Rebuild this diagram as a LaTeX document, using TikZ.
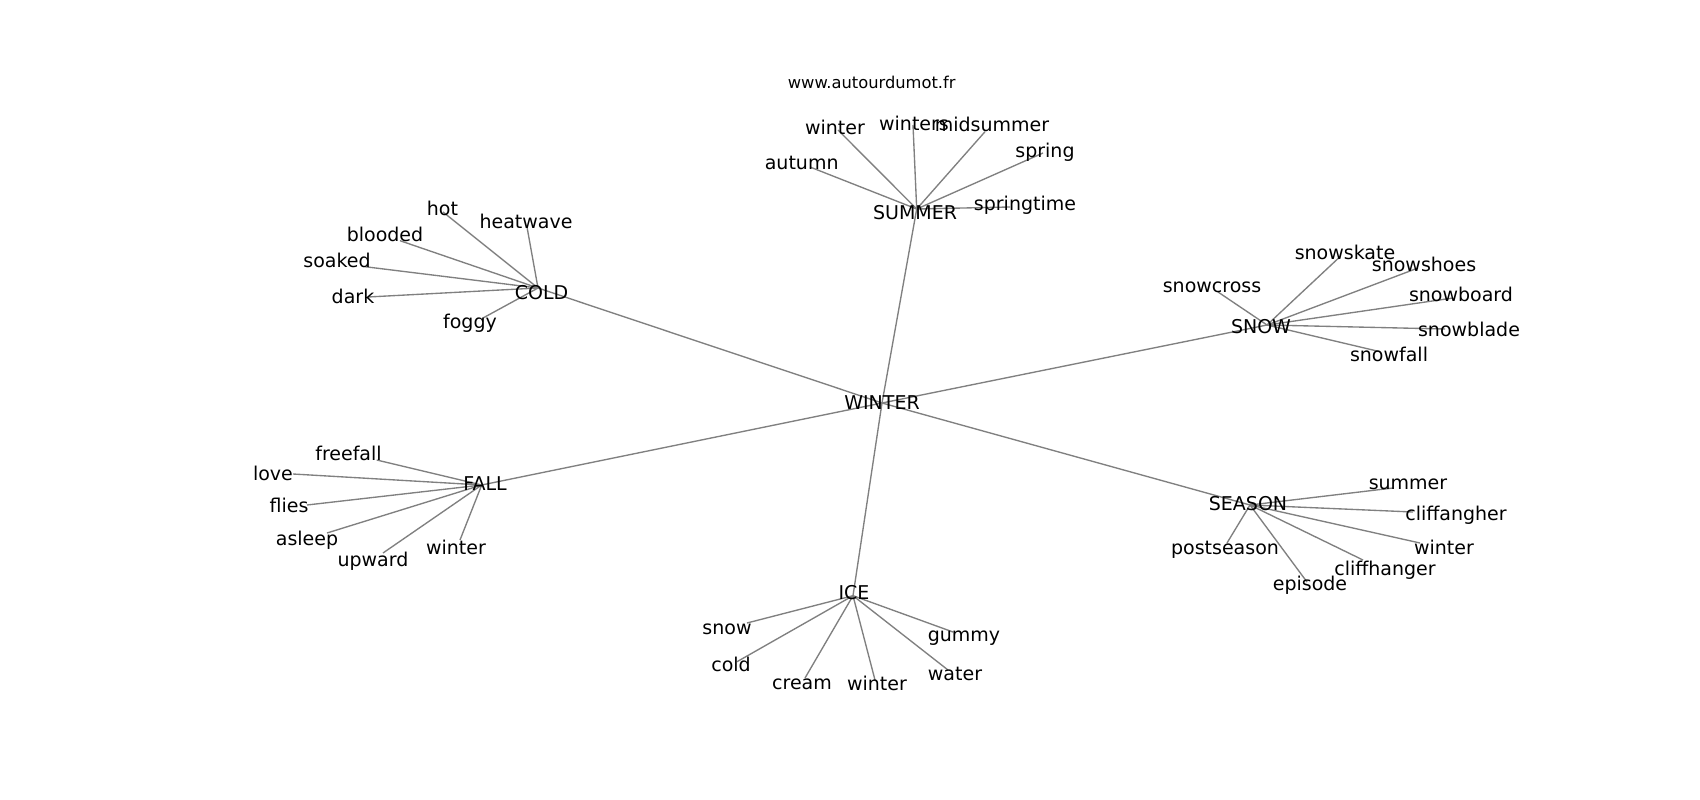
\documentclass[tikz,border=0pt]{standalone}
\usepackage{fontspec}
\setmainfont{DejaVu Sans}
\definecolor{edgec}{RGB}{128,128,128}
\begin{document}
\begin{tikzpicture}[x=1pt,y=-1pt,
  lbl/.style={inner sep=0pt, anchor=base, font=\fontsize{19}{22}\selectfont},
  small/.style={inner sep=0pt, anchor=base, font=\fontsize{16.3}{19}\selectfont},
  edge/.style={draw=edgec, line width=1.35pt}]
\useasboundingbox[fill=white] (0,0) rectangle (1700,800);
% hub points
\coordinate (WINTER) at (882,403);
\coordinate (SUMMER) at (916.7,209);
\coordinate (COLD) at (538,288);
\coordinate (SNOW) at (1267,325);
\coordinate (FALL) at (481.7,485);
\coordinate (SEASON) at (1250,505);
\coordinate (ICE) at (853,595.7);
% summer children
\coordinate (su-winter) at (838,130);
\coordinate (su-winters) at (913,125);
\coordinate (su-midsummer) at (985,131.7);
\coordinate (su-spring) at (1043,153);
\coordinate (su-springtime) at (1010,207);
\coordinate (su-autumn) at (810,167);
% cold children
\coordinate (co-hot) at (443,212);
\coordinate (co-heatwave) at (527,227);
\coordinate (co-blooded) at (400,240.7);
\coordinate (co-soaked) at (365,266.7);
\coordinate (co-dark) at (368,297);
\coordinate (co-foggy) at (483,318);
% snow children
\coordinate (sn-snowcross) at (1218,292);
\coordinate (sn-snowskate) at (1340,256.7);
\coordinate (sn-snowshoes) at (1418,268);
\coordinate (sn-snowboard) at (1453,298);
\coordinate (sn-snowblade) at (1445,329);
\coordinate (sn-snowfall) at (1380,351.7);
% fall children
\coordinate (fa-freefall) at (376.7,460);
\coordinate (fa-love) at (293,474);
\coordinate (fa-flies) at (307,505);
\coordinate (fa-asleep) at (327,533);
\coordinate (fa-upward) at (383,553);
\coordinate (fa-winter) at (460,540);
% season children
\coordinate (se-summer) at (1393,488);
\coordinate (se-cliffangher) at (1413,512);
\coordinate (se-winter) at (1420,543);
\coordinate (se-cliffhanger) at (1363,560);
\coordinate (se-episode) at (1307,582);
\coordinate (se-postseason) at (1227,543);
% ice children
\coordinate (ic-snow) at (747,623);
\coordinate (ic-cold) at (737,661.7);
\coordinate (ic-cream) at (805,678);
\coordinate (ic-winter) at (875,680);
\coordinate (ic-water) at (948,670);
\coordinate (ic-gummy) at (953,632);
% edges
\foreach \h in {SUMMER,COLD,SNOW,FALL,SEASON,ICE} \draw[edge] (WINTER) -- (\h);
\foreach \c in {winter,winters,midsummer,spring,springtime,autumn} \draw[edge] (SUMMER) -- (su-\c);
\foreach \c in {hot,heatwave,blooded,soaked,dark,foggy} \draw[edge] (COLD) -- (co-\c);
\foreach \c in {snowcross,snowskate,snowshoes,snowboard,snowblade,snowfall} \draw[edge] (SNOW) -- (sn-\c);
\foreach \c in {freefall,love,flies,asleep,upward,winter} \draw[edge] (FALL) -- (fa-\c);
\foreach \c in {summer,cliffangher,winter,cliffhanger,episode,postseason} \draw[edge] (SEASON) -- (se-\c);
\foreach \c in {snow,cold,cream,winter,water,gummy} \draw[edge] (ICE) -- (ic-\c);
% labels
\node[small] (t-www) at (871.7,88.3) {www.autourdumot.fr};
\node[lbl] (t-WINTER) at (882,409.3) {WINTER};
\node[lbl] (t-SUMMER) at (915,219.3) {SUMMER};
\node[lbl] (t-COLD) at (541.5,299) {COLD};
\node[lbl] (t-SNOW) at (1261,333.3) {SNOW};
\node[lbl] (t-FALL) at (485,490) {FALL};
\node[lbl] (t-SEASON) at (1248,510) {SEASON};
\node[lbl] (t-ICE) at (854,599) {ICE};
% summer
\node[lbl] (t-su-winter) at (835,134) {winter};
\node[lbl] (t-su-winters) at (914,130.7) {winters};
\node[lbl] (t-su-midsummer) at (992,131) {midsummer};
\node[lbl] (t-su-spring) at (1045,157.3) {spring};
\node[lbl] (t-su-springtime) at (1025,210) {springtime};
\node[lbl] (t-su-autumn) at (801.7,169.3) {autumn};
% cold
\node[lbl] (t-co-hot) at (442.5,215.7) {hot};
\node[lbl] (t-co-heatwave) at (526,228.3) {heatwave};
\node[lbl] (t-co-blooded) at (385,241) {blooded};
\node[lbl] (t-co-soaked) at (337,267.7) {soaked};
\node[lbl] (t-co-dark) at (353,303.3) {dark};
\node[lbl] (t-co-foggy) at (470,328.3) {foggy};
% snow
\node[lbl] (t-sn-snowcross) at (1212,292.3) {snowcross};
\node[lbl] (t-sn-snowskate) at (1345,259) {snowskate};
\node[lbl] (t-sn-snowshoes) at (1424,271) {snowshoes};
\node[lbl] (t-sn-snowboard) at (1461,301.7) {snowboard};
\node[lbl] (t-sn-snowblade) at (1469,336.7) {snowblade};
\node[lbl] (t-sn-snowfall) at (1389,361.7) {snowfall};
% fall
\node[lbl] (t-fa-freefall) at (348.5,460) {freefall};
\node[lbl] (t-fa-love) at (273,480) {love};
\node[lbl] (t-fa-flies) at (289,512.7) {flies};
\node[lbl] (t-fa-asleep) at (307,545) {asleep};
\node[lbl] (t-fa-upward) at (373,566) {upward};
\node[lbl] (t-fa-winter) at (456,554) {winter};
% season
\node[lbl] (t-se-summer) at (1408,489.3) {summer};
\node[lbl] (t-se-cliffangher) at (1456,520) {cliffangher};
\node[lbl] (t-se-winter) at (1444,554) {winter};
\node[lbl] (t-se-cliffhanger) at (1385,575) {cliffhanger};
\node[lbl] (t-se-episode) at (1310,590) {episode};
\node[lbl] (t-se-postseason) at (1225,554) {postseason};
% ice
\node[lbl] (t-ic-snow) at (727,634.3) {snow};
\node[lbl] (t-ic-cold) at (731,671.7) {cold};
\node[lbl] (t-ic-cream) at (802,689) {cream};
\node[lbl] (t-ic-winter) at (877,690) {winter};
\node[lbl] (t-ic-water) at (955,680) {water};
\node[lbl] (t-ic-gummy) at (964,641) {gummy};
\end{tikzpicture}
\end{document}
